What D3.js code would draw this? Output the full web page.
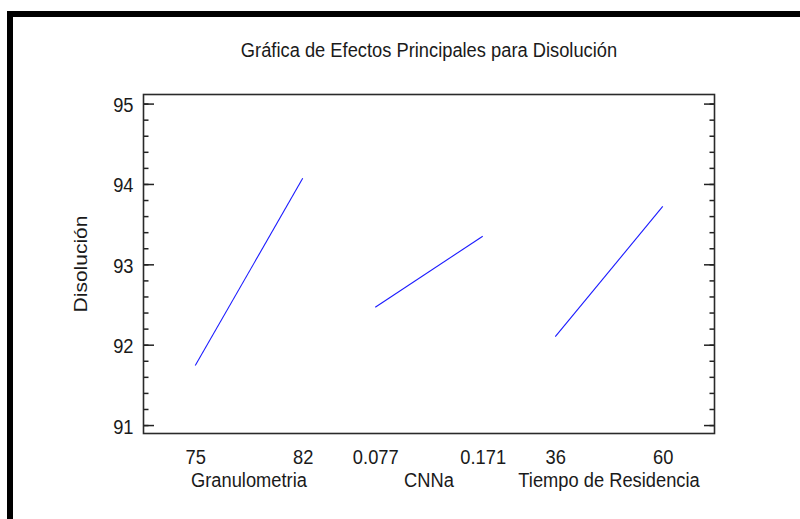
<!DOCTYPE html>
<html>
<head>
<meta charset="utf-8">
<script src="https://cdn.jsdelivr.net/npm/d3@7"></script>
<style>
  html, body { margin: 0; padding: 0; background: #fff; }
  svg { display: block; }
  text { font-family: "Liberation Sans", Arial, sans-serif; fill: #1a1a1a; }
</style>
</head>
<body>
<svg id="chart" width="800" height="519"></svg>
<script>
// Main effects of each factor on dissolution (mean response at low / high level)
const factors = ["Granulometria", "CNNa", "Tiempo de Residencia"];
const levelLow = [75, 0.077, 36];
const levelHigh = [82, 0.171, 60];
const levelLabels = [["75", "82"], ["0.077", "0.171"], ["36", "60"]];
const meanLow = [91.74, 92.465, 92.10];
const meanHigh = [94.07, 93.35, 93.72];
const yMajorTicks = [91, 92, 93, 94, 95];
const yExtent = [90.895, 95.113];
const title = "Gráfica de Efectos Principales para Disolución";
const yTitle = "Disolución";

const svg = d3.select("#chart");
const W = 800, H = 519;
const box = { left: 143.5, right: 714.5, top: 94.5, bottom: 433.5 };
const fontSize = 18.3;
const stretch = 1.147;   // glyphs are drawn taller than wide
const ink = "#1a1a1a";

// outer heavy frame (top and left edges)
svg.append("path")
  .attr("d", `M10,${H} V14 H${W}`)
  .attr("fill", "none")
  .attr("stroke", "#000")
  .attr("stroke-width", 6);

const y = d3.scaleLinear().domain(yExtent).range([box.bottom, box.top]);

const xFactor = d3.scalePoint().domain(factors)
  .range([box.left, box.right]).padding(0.586);
const halfSpan = xFactor.step() * 0.2985;
const levelScales = factors.map((f, i) =>
  d3.scaleLinear().domain([levelLow[i], levelHigh[i]])
    .range([xFactor(f) - halfSpan, xFactor(f) + halfSpan]));

function stretchedText(sel) {
  sel.style("font-size", fontSize + "px");
}

// y axes: left with labels, right mirrored; major and minor ticks point inward
const leftMajor = svg.append("g").attr("transform", `translate(${box.left},0)`)
  .call(d3.axisLeft(y).tickValues(yMajorTicks).tickFormat(d3.format("d"))
    .tickSizeInner(-10.5).tickSizeOuter(0).tickPadding(10));
const leftMinor = svg.append("g").attr("transform", `translate(${box.left},0)`)
  .call(d3.axisLeft(y).ticks(20).tickSizeInner(-5).tickSizeOuter(0).tickFormat(""));
const rightMajor = svg.append("g").attr("transform", `translate(${box.right},0)`)
  .call(d3.axisRight(y).tickValues(yMajorTicks).tickSizeInner(-10.5).tickSizeOuter(0).tickFormat(""));
const rightMinor = svg.append("g").attr("transform", `translate(${box.right},0)`)
  .call(d3.axisRight(y).ticks(20).tickSizeInner(-5).tickSizeOuter(0).tickFormat(""));

[leftMajor, leftMinor, rightMajor, rightMinor].forEach(g => {
  g.select(".domain").remove();
  g.selectAll(".tick line").attr("stroke", "#222").attr("stroke-width", 1.5);
  g.attr("font-family", null).attr("font-size", null);
});

leftMajor.selectAll(".tick text")
  .attr("dy", null)
  .attr("fill", ink)
  .attr("transform", `translate(0,${fontSize * 0.38 * stretch}) scale(1,${stretch})`)
  .call(stretchedText);

// x axes: one per factor, labels only at the two levels
factors.forEach((f, i) => {
  const g = svg.append("g").attr("transform", `translate(0,${box.bottom})`)
    .call(d3.axisBottom(levelScales[i])
      .tickValues([levelLow[i], levelHigh[i]])
      .tickFormat((d, j) => levelLabels[i][j])
      .tickSize(0));
  g.select(".domain").remove();
  g.attr("font-family", null).attr("font-size", null);
  g.selectAll(".tick text")
    .attr("y", null).attr("dy", null)
    .attr("fill", ink)
    .attr("transform", `translate(0,30) scale(1,${stretch})`)
    .call(stretchedText);

  svg.append("text")
    .attr("transform", `translate(${xFactor(f)},${box.bottom + 53.2}) scale(1,${stretch})`)
    .attr("text-anchor", "middle")
    .call(stretchedText)
    .text(f);
});

// plot frame
svg.append("rect")
  .attr("x", box.left).attr("y", box.top)
  .attr("width", box.right - box.left).attr("height", box.bottom - box.top)
  .attr("fill", "none").attr("stroke", "#2a2a2a").attr("stroke-width", 1.6);

// effect lines
const line = d3.line().x(d => d.x).y(d => y(d.v));
factors.forEach((f, i) => {
  const pts = [
    { x: levelScales[i](levelLow[i]), v: meanLow[i] },
    { x: levelScales[i](levelHigh[i]), v: meanHigh[i] }
  ];
  svg.append("path")
    .datum(pts)
    .attr("d", line)
    .attr("fill", "none")
    .attr("stroke", "#1a1aff")
    .attr("stroke-width", 1.1);
});

// titles
svg.append("text")
  .attr("transform", `translate(${(box.left + box.right) / 2},57) scale(1,${stretch})`)
  .attr("text-anchor", "middle")
  .call(stretchedText)
  .text(title);

svg.append("text")
  .attr("transform", `translate(86.5,${(box.top + box.bottom) / 2}) scale(1,${stretch}) rotate(-90)`)
  .attr("text-anchor", "middle")
  .call(stretchedText)
  .text(yTitle);
</script>
</body>
</html>
